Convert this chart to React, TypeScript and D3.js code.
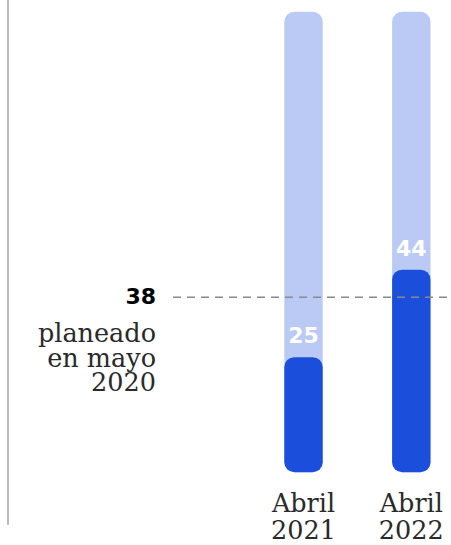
import React from "react";
import * as d3 from "d3";

const categories: string[][] = [["Abril", "2021"], ["Abril", "2022"]];
const values: number[] = [25, 44];
const maxValue = 100;
const targetValue = 38;
const targetLabel: string[] = ["planeado", "en mayo", "2020"];

const W = 451;
const H = 545;

export default function App() {
  const keys = categories.map((c) => c.join(" "));
  const x = d3.scalePoint<string>().domain(keys).range([303.5, 411.3]);
  const y = d3.scaleLinear().domain([0, maxValue]).range([472.3, 11.7]);
  const bw = 38.4;
  const r = 10;
  const serif = "'DejaVu Serif', serif";
  const sans = "'DejaVu Sans', sans-serif";

  return (
    <svg
      width={W}
      height={H}
      style={{ position: "absolute", left: 0, top: 0, background: "#fff" }}
    >
      <line x1={8} x2={8} y1={0} y2={525} stroke="#aaa" strokeWidth={1.6} />
      {keys.map((k, i) => {
        const cx = x(k)!;
        const top = y(values[i]);
        return (
          <g key={k}>
            <rect
              x={cx - bw / 2}
              y={y(maxValue)}
              width={bw}
              height={y(0) - y(maxValue)}
              rx={r}
              ry={r}
              fill="#bbcaf4"
            />
            <rect
              x={cx - bw / 2}
              y={top}
              width={bw}
              height={y(0) - top}
              rx={r}
              ry={r}
              fill="#1c4edc"
            />
            <text
              x={cx}
              y={top - 14}
              textAnchor="middle"
              fontFamily={sans}
              fontWeight="bold"
              fontSize={22}
              fill="#fff"
            >
              {values[i]}
            </text>
            {categories[i].map((t, j) => (
              <text
                key={j}
                x={cx}
                y={511.7 + j * 27.3}
                textAnchor="middle"
                fontFamily={serif}
                fontSize={25.5}
                fill="#2a2a2a"
              >
                {t}
              </text>
            ))}
          </g>
        );
      })}
      <line
        x1={173}
        x2={W}
        y1={y(targetValue)}
        y2={y(targetValue)}
        stroke="#8a8a8a"
        strokeWidth={1.3}
        strokeDasharray="8,6"
      />
      <text
        x={156}
        y={y(targetValue) + 7}
        textAnchor="end"
        fontFamily={sans}
        fontWeight="bold"
        fontSize={22}
        fill="#000"
      >
        {targetValue}
      </text>
      {targetLabel.map((t, j) => (
        <text
          key={j}
          x={156}
          y={341.7 + j * 24.8}
          textAnchor="end"
          fontFamily={serif}
          fontSize={25.5}
          fill="#2a2a2a"
        >
          {t}
        </text>
      ))}
    </svg>
  );
}
